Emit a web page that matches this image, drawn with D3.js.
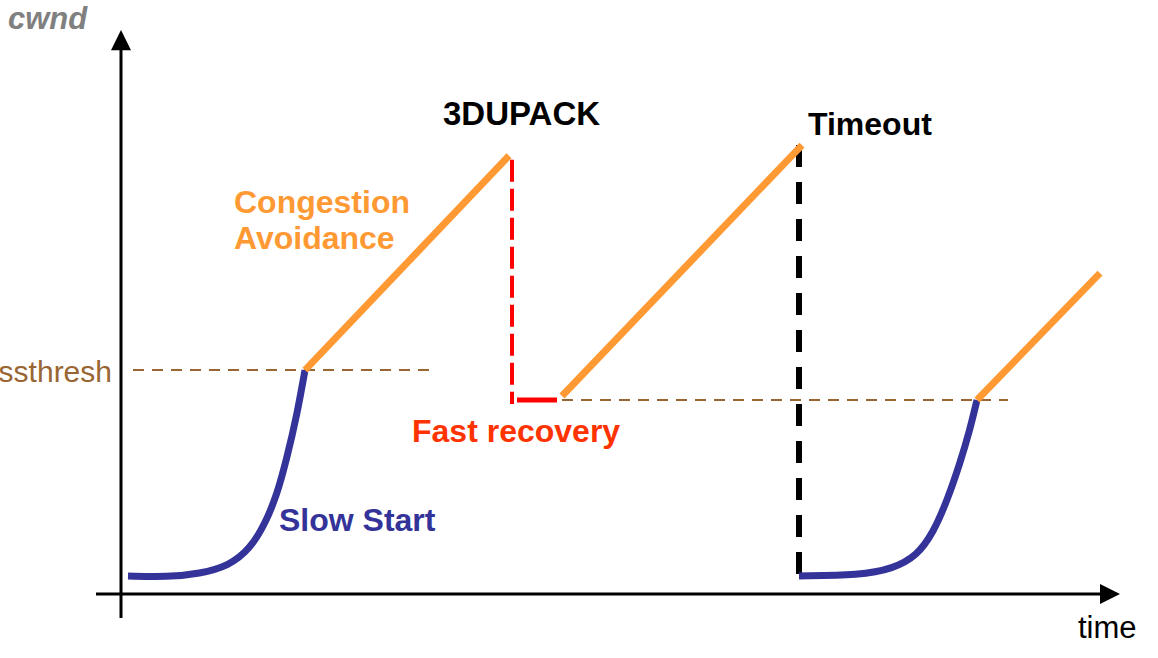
<!DOCTYPE html>
<html><head><meta charset="utf-8">
<script src="https://cdn.jsdelivr.net/npm/d3@7/dist/d3.min.js"></script>
<style>
html,body{margin:0;padding:0;background:#fff;}
svg{display:block;font-family:"Liberation Sans",Arial,Helvetica,sans-serif;}
</style></head>
<body>
<svg id="chart" width="1158" height="658"></svg>
<script>
// ---- data (time units, cwnd units) ----
const slowStart1 = [[0.7,3.2],[4.6,3.0],[7.9,3.6],[10.8,5.0],[12.9,8.0],[14.4,12.4],[15.6,17.6],[16.6,24.2],[17.6,31.8],[18.4,39.7]];
const slowStart2 = [[67.8,3.2],[73.9,3.3],[77.2,4.5],[79.6,6.8],[81.2,10.8],[82.6,16.5],[83.9,23.2],[84.9,29.2],[85.6,34.4]];
const congAvoid1 = [[18.4,39.7],[38.8,77.7]];
const congAvoid2 = [[44.1,35.1],[68.1,79.6]];
const congAvoid3 = [[85.6,34.4],[97.9,56.9]];
const dupAckDrop = [[39.1,77.0],[39.1,33.7]];
const fastRecovery = [[39.6,34.4],[43.6,34.4]];
const timeoutDrop = [[67.8,79.6],[67.8,2.8]];
const ssthresh1 = [[1.2,39.7],[30.9,39.7]];
const ssthresh2 = [[44.1,34.4],[88.7,34.4]];
const labels = {yAxis:"cwnd", xAxis:"time", ssthresh:"ssthresh", ca1:"Congestion", ca2:"Avoidance",
  ss:"Slow Start", fr:"Fast recovery", dup:"3DUPACK", to:"Timeout"};

const svg = d3.select("#chart");
const x = d3.scaleLinear().domain([0,100]).range([121,1121]);
const y = d3.scaleLinear().domain([0,100]).range([594,30]);

const ORANGE="#ff9933", BLUE="#333399", BROWN="#996633";

// axes
svg.append("line").attr("x1",x(0)).attr("x2",x(0)).attr("y1",618).attr("y2",y(96.5))
  .attr("stroke","#000").attr("stroke-width",3);
svg.append("path").attr("d",`M${x(0)},${y(100)} L${x(0)-10},${y(96.4)} L${x(0)+10},${y(96.4)} Z`).attr("fill","#000");
svg.append("line").attr("x1",96).attr("x2",x(98)).attr("y1",y(0)).attr("y2",y(0))
  .attr("stroke","#000").attr("stroke-width",3);
svg.append("path").attr("d",`M${x(99.9)},${y(0)} L${x(97.9)},${y(0)-10} L${x(97.9)},${y(0)+10} Z`).attr("fill","#000");

const line = d3.line().x(d=>x(d[0])).y(d=>y(d[1]));
const curve = d3.line().x(d=>x(d[0])).y(d=>y(d[1])).curve(d3.curveBasis);

function seg(data, color, w, dash){
  const p = svg.append("path").attr("d", line(data)).attr("fill","none")
    .attr("stroke",color).attr("stroke-width",w);
  if(dash) p.attr("stroke-dasharray",dash);
  return p;
}
// ssthresh dashed lines
seg(ssthresh1, BROWN, 2, "11,8");
seg(ssthresh2, BROWN, 2, "11,8");
// drops
seg(dupAckDrop, "#ff0000", 4, "22,7");
seg(timeoutDrop, "#000", 6, "22,15");
seg(fastRecovery, "#ff0000", 5);
// slow start curves
[slowStart1, slowStart2].forEach(d=>{
  svg.append("path").attr("d",curve(d)).attr("fill","none").attr("stroke",BLUE).attr("stroke-width",7);
});
// congestion avoidance
[congAvoid1, congAvoid2, congAvoid3].forEach(d=>seg(d, ORANGE, 7));

// text
function txt(t,xp,yp,opt){
  const e = svg.append("text").attr("x",xp).attr("y",yp).text(t)
    .attr("font-size",opt.size||32).attr("fill",opt.fill||"#000")
    .attr("font-weight",opt.bold?"bold":"normal");
  if(opt.italic) e.attr("font-style","italic");
  if(opt.anchor) e.attr("text-anchor",opt.anchor);
  return e;
}
txt(labels.yAxis, 8, 29, {bold:true, italic:true, fill:"#808080", size:31});
txt(labels.xAxis, 1078, 638, {size:31});
txt(labels.ssthresh, 112, 382, {fill:BROWN, size:30, anchor:"end"});
txt(labels.ca1, 234, 213, {bold:true, fill:ORANGE});
txt(labels.ca2, 234, 249, {bold:true, fill:ORANGE});
txt(labels.ss, 279, 531, {bold:true, fill:BLUE});
txt(labels.fr, 412, 442, {bold:true, fill:"#ff3300"});
txt(labels.dup, 443, 125, {bold:true, size:33});
txt(labels.to, 808, 135, {bold:true});
</script>
</body></html>
